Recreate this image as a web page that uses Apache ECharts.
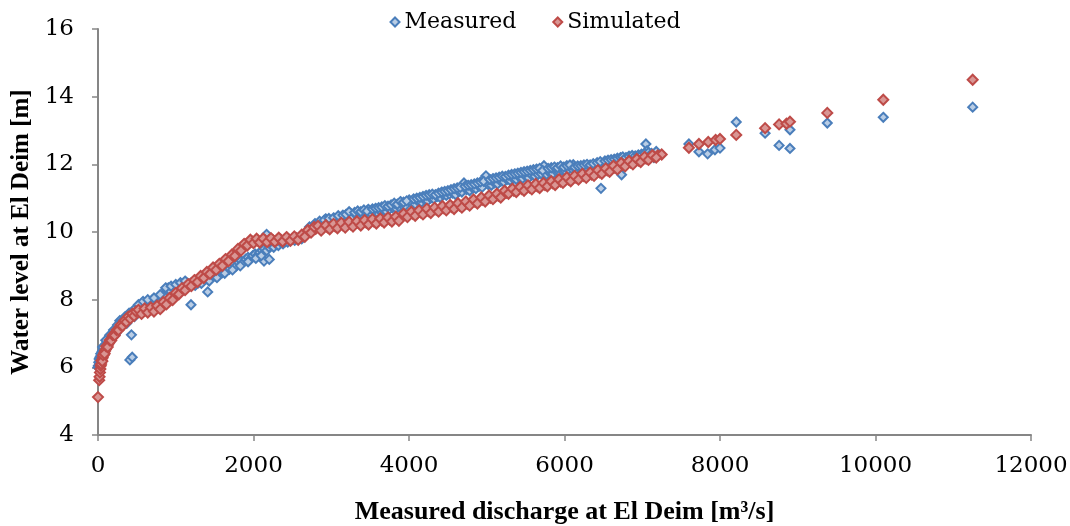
<!DOCTYPE html>
<html>
<head>
<meta charset="utf-8">
<script src="https://cdn.jsdelivr.net/npm/echarts@6/dist/echarts.min.js"></script>
<style>
html,body{margin:0;padding:0;background:#fff;}
#chart{width:1070px;height:526px;}
</style>
</head>
<body>
<div id="chart"></div>
<script>
// Measured discharge [m3/s] vs water level [m] at El Deim
const measured = [
[0,6.0],[5,6.05],[10,6.15],[15,6.25],[20,6.1],[25,6.3],[30,6.2],[35,6.4],[40,6.35],[50,6.45],[55,6.3],[60,6.5],[70,6.55],[75,6.4],[85,6.6],[90,6.5],[100,6.65],[110,6.6],[120,6.75],[130,6.7],[140,6.85],[150,6.78],[165,6.9],[175,6.85],[190,7.0],[200,6.95],[215,7.05],[230,7.0],[245,7.15],[260,7.1],[280,7.38],[290,7.2],[310,7.25],[330,7.3],[350,7.35],[370,7.3],[390,7.45],[410,6.22],[440,6.3],[430,6.96],[420,7.5],[450,7.55],[470,7.5],[490,7.65],[510,7.6],[530,7.75],[550,7.7],[570,7.8],[590,7.75],[610,7.9],[630,7.85],[650,7.95],[680,7.9],[700,8.0],[730,7.95],[760,7.85],[790,8.0],[820,8.05],[850,8.15],[880,8.3],[905,8.35],[930,8.25],[960,8.35],[990,8.3],[1020,8.4],[1050,8.35],[1080,8.45],[1110,8.4],[1140,8.5],[1170,8.45],[1196,7.85],[1200,8.5],[1230,8.45],[1260,8.55],[1290,8.5],[1320,8.6],[1350,8.55],[1380,8.65],[1411,8.23],[1420,8.6],[1450,8.7],[1480,8.75],[1510,8.7],[1540,8.8],[1570,8.85],[1600,8.8],[1630,8.9],[1660,8.95],[1690,8.9],[1720,9.0],[1750,9.05],[1780,9.0],[1810,9.1],[1840,9.15],[1870,9.1],[1900,9.2],[1930,9.25],[1960,9.2],[1990,9.3],[2020,9.35],[2050,9.3],[2080,9.4],[2110,9.45],[2135,9.14],[2169,9.93],[2203,9.19],[2140,9.5],[2170,9.45],[2200,9.55],[2230,9.6],[2260,9.55],[2290,9.65],[2320,9.6],[2350,9.7],[2380,9.65],[2410,9.72],[2440,9.7],[2470,9.75],[2500,9.8],[2530,9.75],[2560,9.82],[2590,9.85],[2620,9.8],[2650,9.9],[2680,9.95],[2710,10.0],[2740,10.05],[2770,10.1],[2800,10.12],[2830,10.15],[2860,10.2],[2890,10.18],[2928,10.39],[2950,10.25],[2980,10.3],[3010,10.28],[3050,10.35],[3090,10.3],[3130,10.38],[3170,10.4],[3210,10.42],[3250,10.55],[3280,10.45],[3320,10.5],[3360,10.45],[3400,10.52],[3440,10.55],[3476,10.67],[3510,10.55],[3550,10.6],[3590,10.58],[3630,10.62],[3670,10.65],[3710,10.6],[3750,10.68],[3790,10.72],[3830,10.7],[3870,10.75],[3910,10.8],[3950,10.78],[4003,10.95],[4040,10.85],[4080,10.82],[4120,10.9],[4160,10.88],[4200,10.95],[4240,10.92],[4280,11.0],[4320,10.98],[4360,11.05],[4400,11.02],[4440,11.1],[4480,11.08],[4520,11.12],[4560,11.15],[4600,11.1],[4640,11.2],[4680,11.18],[4707,11.45],[4740,11.25],[4780,11.22],[4820,11.3],[4860,11.28],[4900,11.35],[4940,11.32],[4990,11.66],[5020,11.4],[5060,11.38],[5100,11.45],[5140,11.42],[5180,11.5],[5220,11.48],[5260,11.55],[5300,11.52],[5340,11.58],[5380,11.55],[5420,11.62],[5460,11.58],[5500,11.65],[5540,11.6],[5580,11.68],[5620,11.65],[5660,11.7],[5700,11.72],[5736,11.96],[5770,11.7],[5810,11.75],[5850,11.72],[5890,11.8],[5930,11.78],[5970,11.82],[6010,11.8],[6050,11.85],[6090,11.88],[6113,11.99],[6150,11.85],[6190,11.9],[6230,11.88],[6270,11.92],[6310,11.85],[6350,11.9],[6400,11.95],[6469,11.29],[6500,11.98],[6540,11.95],[6580,12.02],[6620,12.05],[6660,12.0],[6700,12.1],[6734,11.69],[6770,12.12],[6810,12.08],[6850,12.15],[6890,12.12],[6930,12.18],[6970,12.15],[7010,12.2],[7047,12.6],[7060,12.4],[7100,12.25],[7150,12.2],[7200,12.3],
[60,6.6],[100,6.8],[150,6.95],[200,7.1],[250,7.25],[300,7.35],[350,7.5],[400,7.6],[460,7.7],[520,7.85],[580,7.95],[640,8.0],[720,8.05],[800,8.15],[870,8.35],[940,8.4],[1000,8.45],[1060,8.5],[1120,8.55],
[1250,8.42],[1330,8.48],[1430,8.55],[1530,8.65],[1630,8.78],[1730,8.88],[1830,9.0],[1930,9.12],[2030,9.22],[2100,9.3],
[2720,10.15],[2790,10.25],[2850,10.32],[2910,10.35],[2970,10.4],[3030,10.42],[3090,10.48],[3150,10.5],[3190,10.52],[3230,10.6],[3300,10.58],[3340,10.62],[3380,10.6],[3420,10.65],[3460,10.62],[3530,10.68],[3570,10.7],[3610,10.72],[3650,10.74],[3690,10.78],[3730,10.76],[3770,10.8],[3810,10.85],[3850,10.82],[3890,10.9],[3930,10.88],[3970,10.92],[4060,10.98],[4100,11.0],[4140,11.02],[4180,11.05],[4220,11.08],[4260,11.1],[4300,11.12],[4340,11.1],[4380,11.15],[4420,11.18],[4460,11.2],[4500,11.22],[4540,11.25],[4580,11.28],[4620,11.3],[4660,11.32],[4720,11.35],[4760,11.38],[4800,11.4],[4840,11.42],[4880,11.45],[4920,11.48],[4960,11.5],[5040,11.55],[5080,11.58],[5120,11.6],[5160,11.62],[5200,11.65],[5240,11.64],[5280,11.68],[5320,11.7],[5360,11.72],[5400,11.74],[5440,11.76],[5480,11.78],[5520,11.8],[5560,11.82],[5600,11.84],[5640,11.86],[5680,11.88],[5720,11.82],[5790,11.88],[5830,11.9],[5870,11.92],[5910,11.9],[5950,11.95],[5990,11.92],[6030,11.96],[6070,11.98],[6130,11.92],[6170,11.95],[6210,11.96],[6250,11.98],[6290,12.0],[6330,11.98],[6370,12.02],[6420,12.05],[6460,12.08],[6520,12.1],[6560,12.12],[6600,12.14],[6640,12.15],[6680,12.18],[6720,12.2],[6750,12.22],[6790,12.2],[6830,12.24],[6870,12.26],[6910,12.25],[6950,12.28],[6990,12.3],[7030,12.32],[7080,12.35],[7120,12.32],[7180,12.38],
[7600,12.6],[7729,12.37],[7841,12.31],[7935,12.43],[8000,12.48],[8209,13.25],[8580,12.92],[8760,12.56],[8900,13.02],[8900,12.47],[9380,13.22],[10100,13.39],[11250,13.69]
];
const simulated = [
[0,5.12],[15,5.62],[20,5.72],[25,5.85],[30,5.95],[35,6.05],[40,6.1],[50,6.2],[60,6.28],[70,6.35],[80,6.42],[90,6.48],[100,6.53],[115,6.6],[130,6.67],[145,6.73],[160,6.8],[180,6.87],[200,6.94],[225,7.02],[250,7.1],[275,7.17],[300,7.24],[325,7.3],[350,7.36],[375,7.41],[400,7.46],[425,7.5],[450,7.55],[475,7.58],[500,7.61],[540,7.64],[580,7.66],[620,7.68],[660,7.69],[700,7.71],[740,7.74],[780,7.78],[820,7.84],[860,7.9],[900,7.97],[940,8.04],[980,8.11],[1020,8.18],[1060,8.25],[1100,8.31],[1140,8.38],[1180,8.44],[1220,8.5],[1260,8.56],[1300,8.62],[1340,8.68],[1380,8.74],[1420,8.8],[1460,8.86],[1500,8.92],[1540,8.98],[1580,9.04],[1620,9.1],[1660,9.17],[1700,9.24],[1740,9.31],[1780,9.4],[1820,9.48],[1860,9.56],[1900,9.63],[1940,9.69],[1980,9.72],[2020,9.73],[2060,9.74],[2100,9.74],[2150,9.75],[2200,9.75],[2250,9.76],[2300,9.76],[2350,9.77],[2400,9.78],[2450,9.79],[2500,9.8],[2550,9.82],[2600,9.84],[2640,9.88],[2680,9.96],[2720,10.03],[2760,10.07],[2800,10.09],[2850,10.11],[2900,10.13],[2950,10.14],[3000,10.16],[3050,10.17],[3100,10.19],[3150,10.2],[3200,10.21],[3250,10.23],[3300,10.24],[3350,10.26],[3400,10.27],[3450,10.28],[3500,10.3],[3550,10.31],[3600,10.33],[3650,10.34],[3700,10.36],[3750,10.37],[3800,10.38],[3850,10.39],[3900,10.46],[3950,10.5],[4000,10.52],[4050,10.54],[4100,10.56],[4150,10.58],[4200,10.6],[4250,10.62],[4300,10.64],[4350,10.66],[4400,10.68],[4450,10.7],[4500,10.72],[4550,10.74],[4600,10.76],[4650,10.78],[4700,10.8],[4750,10.83],[4800,10.86],[4850,10.89],[4900,10.92],[4950,10.95],[5000,10.98],[5050,11.01],[5100,11.04],[5150,11.07],[5200,11.1],[5250,11.16],[5300,11.2],[5350,11.22],[5400,11.25],[5450,11.27],[5500,11.29],[5550,11.31],[5600,11.33],[5650,11.35],[5700,11.37],[5750,11.39],[5800,11.42],[5850,11.44],[5900,11.46],[5950,11.49],[6000,11.52],[6050,11.55],[6100,11.57],[6150,11.6],[6200,11.62],[6250,11.65],[6300,11.67],[6350,11.7],[6400,11.73],[6450,11.76],[6500,11.79],[6550,11.82],[6600,11.86],[6650,11.9],[6700,11.94],[6750,11.98],[6800,12.02],[6850,12.05],[6900,12.08],[6950,12.11],[7000,12.14],[7050,12.17],[7100,12.2],[7150,12.23],[7200,12.26],[7250,12.29],
[45,6.2],[55,6.18],[65,6.36],[85,6.4],[105,6.62],[125,6.6],[150,6.8],[170,6.79],[190,6.95],[215,6.94],[240,7.1],[265,7.1],[290,7.25],[315,7.22],[340,7.38],[365,7.34],[390,7.5],[415,7.44],[440,7.58],[465,7.52],[490,7.65],
[520,7.7],[560,7.58],[600,7.74],[640,7.62],[680,7.77],[720,7.65],[760,7.82],[800,7.72],[840,7.93],[880,7.86],[920,8.05],[960,7.99],[1000,8.2],[1040,8.16],[1080,8.34],[1120,8.28],[1160,8.46],[1200,8.4],[1240,8.58],[1280,8.52],[1320,8.7],[1360,8.64],[1400,8.82],[1440,8.76],[1480,8.95],[1520,8.88],[1560,9.06],[1600,9.0],[1640,9.2],[1680,9.14],[1720,9.33],[1760,9.29],[1800,9.5],[1840,9.45],[1880,9.65],[1920,9.6],[1960,9.77],[2000,9.67],[2040,9.8],[2080,9.69],[2125,9.81],[2175,9.7],[2225,9.82],[2275,9.71],[2325,9.83],[2375,9.72],[2425,9.85],[2475,9.74],[2525,9.87],[2575,9.77],[2620,9.92],[2660,9.86],[2700,10.06],[2740,9.98],[2780,10.15],
[2830,10.18],[2870,10.04],[2930,10.2],[2980,10.08],[3030,10.24],[3080,10.11],[3130,10.27],[3180,10.13],[3230,10.3],[3280,10.16],[3330,10.32],[3380,10.19],[3430,10.35],[3480,10.22],[3530,10.38],[3580,10.25],[3630,10.4],[3680,10.28],[3730,10.43],[3780,10.31],[3830,10.45],[3870,10.33],[3930,10.54],[3980,10.44],[4030,10.6],[4080,10.48],[4130,10.64],[4180,10.52],[4230,10.69],[4280,10.56],[4330,10.72],[4380,10.6],[4430,10.77],[4480,10.64],[4530,10.8],[4580,10.68],[4630,10.85],[4680,10.72],[4730,10.9],[4780,10.78],[4830,10.96],[4880,10.84],[4930,11.02],[4980,10.9],[5030,11.08],[5080,10.97],[5130,11.13],[5180,11.02],[5230,11.22],[5280,11.13],[5330,11.28],[5380,11.18],[5430,11.33],[5480,11.22],[5530,11.38],[5580,11.26],[5630,11.42],[5680,11.3],[5730,11.45],[5780,11.35],[5830,11.5],[5880,11.39],[5930,11.56],[5980,11.45],[6030,11.62],[6080,11.5],[6130,11.66],[6180,11.55],[6230,11.72],[6280,11.6],[6330,11.76],[6380,11.66],[6430,11.83],[6480,11.72],[6530,11.88],[6580,11.78],[6630,11.96],[6680,11.85],[6730,12.04],[6780,11.94],[6830,12.1],[6880,12.0],[6930,12.16],[6980,12.07],[7030,12.22],[7080,12.13],[7130,12.27],[7180,12.2],
[7600,12.49],[7729,12.6],[7849,12.66],[7944,12.72],[8000,12.75],[8209,12.87],[8580,13.07],[8760,13.18],[8855,13.2],[8900,13.26],[9380,13.52],[10100,13.91],[11250,14.5]
];
const xTicks = {min: 0, max: 12000, interval: 2000};
const yTicks = {min: 4, max: 16, interval: 2};
const xName = 'Measured discharge at El Deim [m³/s]';
const yName = 'Water level at El Deim [m]';
const seriesNames = ['Measured', 'Simulated'];

const chart = echarts.init(document.getElementById('chart'), null, {renderer: 'canvas'});
const axisGray = '#868686';
const labelFont = {fontFamily: 'DejaVu Serif', fontSize: 23, color: '#000'};
chart.setOption({
  animation: false,
  backgroundColor: '#fff',
  legend: {
    top: 6, left: 'center',
    itemWidth: 9, itemHeight: 9, itemGap: 36,
    textStyle: {fontFamily: 'DejaVu Serif', fontSize: 22, color: '#000'},
    data: [
      {name: seriesNames[0], icon: 'diamond'},
      {name: seriesNames[1], icon: 'diamond'}
    ]
  },
  grid: {left: 98, right: 39, top: 29, bottom: 91, containLabel: false, outerBoundsMode: 'none'},
  xAxis: {
    type: 'value', min: xTicks.min, max: xTicks.max, interval: xTicks.interval,
    name: xName, nameLocation: 'middle', nameGap: 64,
    nameTextStyle: {fontFamily: 'Liberation Serif', fontWeight: 'bold', fontSize: 26, color: '#000'},
    axisLine: {show: true, onZero: false, lineStyle: {color: axisGray, width: 2}},
    axisTick: {show: true, inside: false, length: 6, lineStyle: {color: axisGray, width: 1.5}},
    axisLabel: Object.assign({margin: 20, formatter: v => String(v)}, labelFont),
    splitLine: {show: false}
  },
  yAxis: {
    type: 'value', min: yTicks.min, max: yTicks.max, interval: yTicks.interval,
    name: yName, nameLocation: 'middle', nameGap: 60, nameRotate: 90,
    nameTextStyle: {fontFamily: 'Liberation Serif', fontWeight: 'bold', fontSize: 25, color: '#000'},
    axisLine: {show: true, onZero: false, lineStyle: {color: axisGray, width: 2}},
    axisTick: {show: true, inside: false, length: 6, lineStyle: {color: axisGray, width: 1.5}},
    axisLabel: Object.assign({margin: 24, formatter: v => String(v)}, labelFont),
    splitLine: {show: false}
  },
  series: [
    {
      name: seriesNames[0], type: 'scatter', symbol: 'diamond', symbolSize: 9,
      data: measured,
      itemStyle: {color: '#b9cde5', borderColor: '#4a7ebb', borderWidth: 2, opacity: 1}
    },
    {
      name: seriesNames[1], type: 'scatter', symbol: 'diamond', symbolSize: 10,
      data: simulated,
      itemStyle: {color: '#d99694', borderColor: '#be4b48', borderWidth: 2, opacity: 1}
    }
  ]
});
</script>
</body>
</html>
